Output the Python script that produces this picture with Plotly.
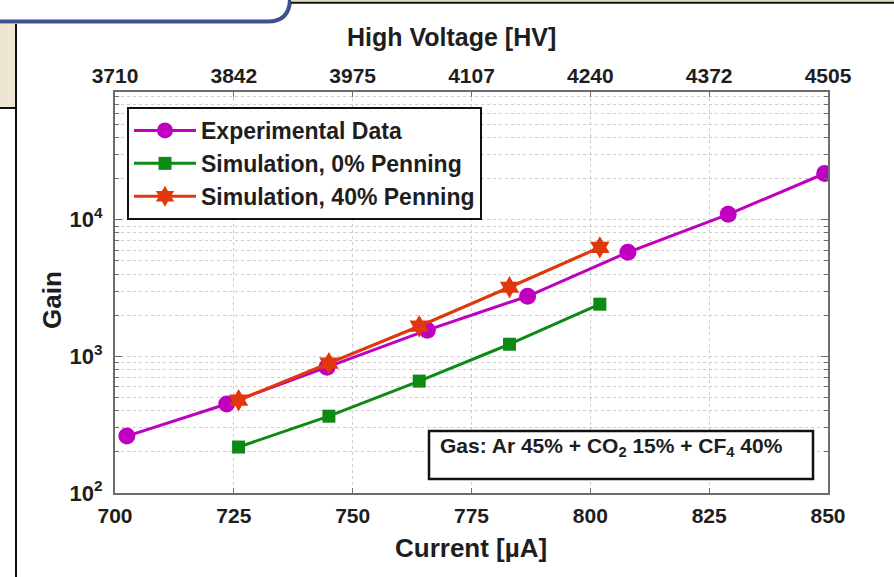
import plotly.graph_objects as go

# ---- data -------------------------------------------------------------
current_exp = [702.5, 723.5, 744.6, 765.7, 786.8, 807.9, 829.0, 849.3]
gain_exp = [261, 448, 834, 1556, 2754, 5780, 10960, 21800]

current_sim = [726, 745, 764, 783, 802]
gain_sim_0 = [217, 365, 659, 1227, 2410]
gain_sim_40 = [478, 892, 1663, 3205, 6280]

current_ticks = [700, 725, 750, 775, 800, 825, 850]
hv_tick_labels = ["3710", "3842", "3975", "4107", "4240", "4372", "4505"]
hv_range = [3710, 4505]
gain_ticks = [100, 1000, 10000]
gain_tick_labels = ["10<sup>2</sup>", "10<sup>3</sup>", "10<sup>4</sup>"]

# ---- figure geometry (pixels) -----------------------------------------
W, H = 894, 577
L, R, T, B = 115, 828, 92, 493


def fx(p):
    return (p - L) / (R - L)


def fy(p):
    return (B - p) / (B - T)


FONT = "Liberation Sans, Arial, Helvetica, sans-serif"
TXT = "#1e1e1e"
GRID = "#cdcdcd"
AX = "#6e6e6e"

hv_per_ua = (hv_range[1] - hv_range[0]) / (current_ticks[-1] - current_ticks[0])
hv_ticks = [hv_range[0] + (c - current_ticks[0]) * hv_per_ua for c in current_ticks]

minor_vals = [m * d for d in (100, 1000, 10000) for m in range(2, 10)]

fig = go.Figure()

fig.add_trace(go.Scatter(
    x=current_exp, y=gain_exp, name="Experimental Data", mode="lines+markers",
    line=dict(color="#c000c0", width=3),
    marker=dict(symbol="circle", size=17, color="#c000c0"),
))
fig.add_trace(go.Scatter(
    x=current_sim, y=gain_sim_0, name="Simulation, 0% Penning", mode="lines+markers",
    line=dict(color="#0c8a14", width=3),
    marker=dict(symbol="square", size=13, color="#0c8a14"),
))
fig.add_trace(go.Scatter(
    x=current_sim, y=gain_sim_40, name="Simulation, 40% Penning", mode="lines+markers",
    line=dict(color="#e0380c", width=3.2),
    marker=dict(symbol="hexagram", size=17, color="#e0380c"),
))
# carrier for the high-voltage axis on top
fig.add_trace(go.Scatter(
    x=hv_range, y=[gain_exp[0], gain_exp[0]], xaxis="x2", mode="markers",
    marker=dict(opacity=0), showlegend=False, hoverinfo="skip",
))

tickfont = dict(family=FONT, size=21, color=TXT, weight="bold")

fig.update_layout(
    width=W, height=H,
    margin=dict(l=L, r=W - R, t=T, b=H - B, pad=0),
    paper_bgcolor="white", plot_bgcolor="white",
    showlegend=True,
    legend=dict(
        x=fx(127), y=fy(107), xanchor="left", yanchor="top",
        bgcolor="white", bordercolor="#111", borderwidth=2,
        font=dict(family=FONT, size=23, color=TXT, weight="bold"),
        itemwidth=62, tracegroupgap=0,
    ),
    xaxis=dict(
        range=[current_ticks[0], current_ticks[-1]],
        tickmode="array", tickvals=current_ticks,
        ticktext=[str(v) for v in current_ticks],
        ticks="inside", ticklen=5, tickcolor=AX, tickwidth=1,
        showgrid=True, gridcolor=GRID, griddash="dot", gridwidth=1,
        showline=True, linecolor=AX, linewidth=2, mirror=True,
        zeroline=False, tickfont=tickfont, ticklabelstandoff=3,
    ),
    xaxis2=dict(
        overlaying="x", side="top", anchor="y",
        range=hv_range, tickmode="array", tickvals=hv_ticks, ticktext=hv_tick_labels,
        ticks="inside", ticklen=5, tickcolor=AX, tickwidth=1,
        showgrid=False, showline=False, zeroline=False,
        tickfont=tickfont, ticklabelstandoff=4,
    ),
    yaxis=dict(
        type="log", range=[2, 4.935],
        tickmode="array", tickvals=gain_ticks, ticktext=gain_tick_labels,
        ticks="inside", ticklen=7, tickcolor=AX, tickwidth=1,
        showgrid=True, gridcolor=GRID, griddash="dot", gridwidth=1,
        showline=True, linecolor=AX, linewidth=2, mirror="ticks",
        zeroline=False, tickfont=dict(family=FONT, size=22, color=TXT, weight="bold"),
        ticklabelstandoff=6,
        minor=dict(tickmode="array", tickvals=minor_vals, ticks="inside",
                   ticklen=4, tickcolor=AX, showgrid=True,
                   gridcolor=GRID, griddash="dot", gridwidth=1),
    ),
)

fig.add_annotation(text="Current [µA]", x=fx(471), y=fy(548), xref="paper", yref="paper",
                   showarrow=False, font=dict(family=FONT, size=26, color=TXT, weight="bold"),
                   xanchor="center", yanchor="middle")
fig.add_annotation(text="High Voltage [HV]", x=fx(451), y=fy(37), xref="paper", yref="paper",
                   showarrow=False, font=dict(family=FONT, size=25, color=TXT, weight="bold"),
                   xanchor="center", yanchor="middle")
fig.add_annotation(text="Gain", x=fx(52), y=fy(300), xref="paper", yref="paper",
                   showarrow=False, font=dict(family=FONT, size=26, color=TXT, weight="bold"),
                   textangle=-90, xanchor="center", yanchor="middle")

# gas mixture box
fig.add_shape(type="rect", xref="paper", yref="paper",
              x0=fx(429), x1=fx(813), y0=fy(479), y1=fy(431),
              line=dict(color="#111", width=2.5), fillcolor="white", layer="above")
fig.add_annotation(text="Gas: Ar 45% + CO<sub>2</sub> 15% + CF<sub>4</sub> 40%",
                   x=fx(438), y=fy(447), xref="paper", yref="paper", showarrow=False,
                   xanchor="left", yanchor="middle",
                   font=dict(family=FONT, size=21, color=TXT, weight="bold"))

# surrounding page frame
frame = "#3f4f8e"
fig.add_shape(type="path", xref="paper", yref="paper",
              path=(f"M {fx(-5)},{fy(21.5)} L {fx(268)},{fy(21.5)} "
                    f"Q {fx(290)},{fy(21.5)} {fx(290)},{fy(-2)}"),
              line=dict(color=frame, width=4), layer="above")
fig.add_shape(type="rect", xref="paper", yref="paper",
              x0=fx(-5), x1=fx(16), y0=fy(108), y1=fy(24),
              line=dict(width=0), fillcolor="#ede6d3", layer="above")
fig.add_shape(type="line", xref="paper", yref="paper",
              x0=fx(16), x1=fx(16), y0=fy(24), y1=fy(590),
              line=dict(color="#111", width=2), layer="above")
fig.add_shape(type="line", xref="paper", yref="paper",
              x0=fx(-5), x1=fx(16), y0=fy(108), y1=fy(108),
              line=dict(color="#111", width=2), layer="above")
fig.add_shape(type="rect", xref="paper", yref="paper",
              x0=fx(291), x1=fx(900), y0=fy(1.5), y1=fy(-2),
              line=dict(width=0), fillcolor="#e6dcc0", layer="above")
fig.add_shape(type="line", xref="paper", yref="paper",
              x0=fx(291), x1=fx(900), y0=fy(2.8), y1=fy(2.8),
              line=dict(color="#111", width=2), layer="above")

fig.write_html("out.html")
